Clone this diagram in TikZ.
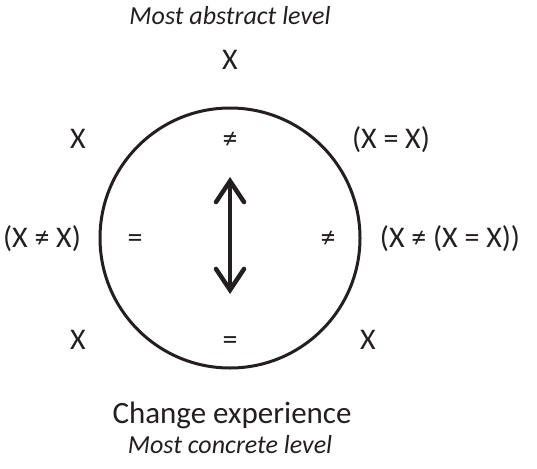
\documentclass[tikz,border=0pt]{standalone}
\usepackage{fontspec}
\setmainfont{Carlito}
\usepackage{tikz}
\usetikzlibrary{arrows.meta,positioning}

\definecolor{ink}{HTML}{231F20}

\begin{document}
\begin{tikzpicture}[
    x=1pt, y=-1pt,
    lbl/.style={font=\fontsize{30}{35}\selectfont, inner sep=0pt, anchor=base, text=ink},
    big/.style={font=\fontsize{31}{36}\selectfont, inner sep=0pt, anchor=base, text=ink},
    lvl/.style={font=\fontsize{26}{30}\selectfont\itshape, inner sep=0pt, anchor=base, text=ink},
    ring/.style={circle, draw=ink, line width=3pt, minimum size=260pt, inner sep=0pt},
    arr/.style={{Straight Barb[length=21pt,width=28pt,line cap=round]}-{Straight Barb[length=21pt,width=28pt,line cap=round]}, line width=4.5pt, draw=ink}
]
\useasboundingbox (0,0) rectangle (537,468);

% Circle
\node[ring] (c) at (230,238) {};

% Levels
\node[lvl] (top) at (230,25) {Most abstract level};
\node[lvl] (bot) at (230,453) {Most concrete level};
\node[big] (chg) at (232,423) {Change experience};

% Outside labels
\node[lbl] (xt) at (230,70) {X};
\node[lbl] (xtl) at (78,148) {X};
\node[lbl] (xtr) at (391,148) {(X = X)};
\node[lbl] (xml) at (42,247) {(X ≠ X)};
\node[lbl] (xmr) at (450,247) {(X ≠ (X = X))};
\node[lbl] (xbl) at (78,349) {X};
\node[lbl] (xbr) at (368,349) {X};

% Inside labels
\node[lbl] (it) at (230,148) {≠};
\node[lbl] (il) at (135,247) {=};
\node[lbl] (ir) at (328,247) {≠};
\node[lbl] (ib) at (230,349) {=};

% Arrow
\coordinate (up) at (230,177);
\coordinate (dn) at (230,294);
\draw[arr] (dn) -- (up);
\end{tikzpicture}
\end{document}
